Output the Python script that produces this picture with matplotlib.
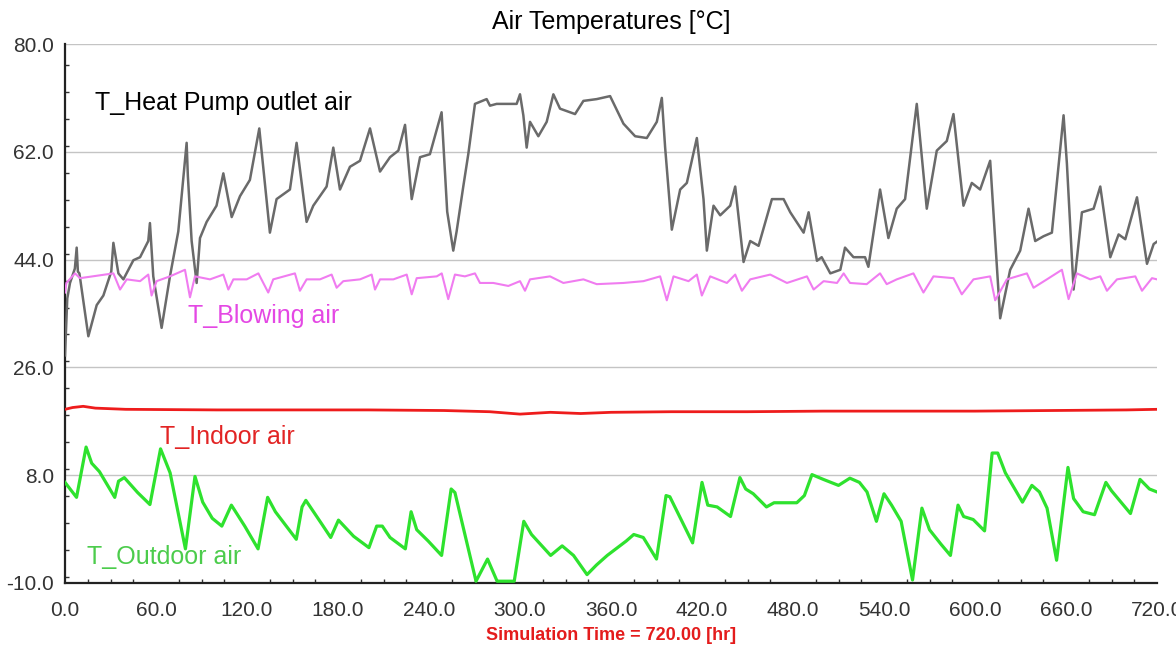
import matplotlib
matplotlib.use("Agg")
import matplotlib.pyplot as plt
from matplotlib.ticker import MultipleLocator, FormatStrFormatter

# T_Heat Pump outlet air
hp_hours = [0, 1.5, 3.3, 6.5, 7.7, 8.5, 9.5, 15.4, 20.9, 25.3, 30.5, 31.9, 35.2, 38.5, 45.1,
            49.5, 54.9, 56.0, 58.2, 63.7, 69.2, 74.7, 80.2, 81.0, 83.5, 86.8, 89.0, 93.4,
            99.9, 104.4, 109.9, 115.4, 121.9, 128.1, 135.1, 139.5, 148.3, 152.7, 159.3,
            163.7, 172.5, 176.9, 181.3, 187.9, 194.5, 201.1, 207.7, 214.3, 219.8, 224.2,
            228.6, 234.1, 240.6, 248.3, 252.0, 256.0, 258.2, 262.6, 265.9, 270.3, 278.0,
            280.2, 284.6, 297.8, 300.0, 302.2, 304.4, 306.6, 312.1, 317.6, 322.0, 326.4,
            336.3, 341.8, 350.6, 359.4, 368.2, 375.9, 383.6, 390.2, 393.5, 395.7, 400.1,
            405.6, 410.0, 416.6, 421.0, 423.2, 427.6, 432.0, 438.6, 441.9, 447.4, 451.8,
            457.3, 466.1, 473.8, 478.2, 487.0, 490.3, 495.8, 498.9, 504.6, 511.2, 514.3,
            519.9, 527.5, 529.7, 537.4, 542.9, 548.4, 553.9, 561.6, 568.2, 574.8, 581.4,
            585.8, 592.4, 597.9, 603.4, 610.0, 616.6, 623.2, 629.8, 635.3, 639.7, 645.2,
            650.7, 658.4, 660.6, 665.0, 670.5, 678.2, 682.6, 689.2, 694.7, 699.1, 706.8,
            713.4, 717.8, 720]
hp_temp = [28.0, 37.5, 40.1, 42.5, 46.0, 42.0, 41.7, 31.2, 36.4, 38.0, 42.0, 46.8, 41.7, 40.7, 43.9,
           44.4, 47.1, 50.1, 41.2, 32.6, 41.2, 48.7, 63.5, 58.0, 47.1, 40.1, 47.6, 50.3,
           53.0, 58.4, 51.1, 54.6, 57.3, 65.9, 48.5, 54.1, 55.7, 63.5, 50.3,
           53.0, 56.2, 62.7, 55.7, 59.5, 60.5, 65.9, 58.7, 61.1, 62.2, 66.5,
           54.1, 61.1, 61.6, 68.6, 52.0, 45.5, 48.7, 56.2, 61.6, 70.0, 70.8,
           69.7, 70.0, 70.0, 71.6, 68.1, 62.7, 67.0, 64.6, 67.0, 71.6, 69.2,
           68.3, 70.5, 70.8, 71.3, 66.7, 64.6, 64.3, 67.0, 71.0, 62.7, 49.0,
           55.7, 56.8, 64.3, 54.1, 45.5, 53.0, 51.4, 53.0, 56.2, 43.6, 47.1,
           46.3, 54.1, 54.1, 51.9, 48.5, 51.9, 43.8, 44.4, 41.7, 42.3, 46.0,
           44.4, 44.4, 42.8, 55.7, 47.6, 52.5, 54.1, 70.0, 52.5, 62.2, 63.8,
           68.3, 53.0, 56.8, 55.7, 60.5, 34.2, 42.3, 45.5, 52.5, 47.1, 47.9,
           48.5, 68.1, 60.0, 39.0, 51.9, 52.5, 56.2, 44.4, 48.2, 47.4, 54.4,
           43.3, 46.6, 47.0]

# T_Blowing air
blow_hours = [0, 0.9, 6.6, 9.9, 31.9, 36.3, 40.7, 49.5, 54.9, 57.1, 60.4, 69.2, 79.1, 82.4, 85.7,
              95.6, 104.4, 107.7, 111.0, 119.8, 127.5, 134.0, 137.3, 151.6, 154.9, 159.3,
              168.1, 175.8, 179.1, 183.5, 194.5, 202.2, 204.4, 207.7, 216.5, 225.3, 228.6,
              231.9, 245.1, 248.4, 252.7, 257.1, 263.7, 270.3, 273.6, 282.4, 292.3, 300.0,
              303.3, 306.6, 319.8, 328.6, 341.8, 350.6, 368.2, 381.4, 392.4, 396.8, 401.2,
              411.1, 416.6, 419.9, 425.4, 436.4, 441.9, 446.3, 451.8, 465.0, 476.0, 489.2,
              493.6, 500.2, 509.0, 513.4, 517.6, 528.6, 537.4, 541.8, 548.4, 559.4, 566.0,
              572.6, 585.8, 591.3, 599.0, 610.0, 613.3, 621.0, 634.2, 638.6, 647.4, 657.3,
              661.7, 667.2, 676.0, 682.6, 687.0, 693.6, 705.7, 710.1, 716.7, 720]
blow_temp = [38.5, 40.1, 41.7, 40.9, 41.7, 39.0, 40.7, 40.4, 41.5, 38.0, 40.4, 41.2, 42.3, 37.7, 41.2,
             40.7, 41.5, 39.0, 40.7, 40.7, 41.7, 38.5, 40.7, 41.7, 38.8, 40.7,
             40.7, 41.5, 39.3, 40.4, 40.7, 41.5, 39.0, 40.7, 40.7, 41.5, 38.2,
             40.9, 41.2, 41.7, 37.4, 41.5, 41.2, 41.7, 40.1, 40.1, 39.6, 40.4,
             38.8, 40.7, 41.2, 40.1, 40.7, 39.9, 40.1, 40.4, 41.2, 37.2, 41.2,
             40.4, 41.5, 38.0, 41.2, 40.1, 41.5, 38.8, 40.7, 41.5, 40.1, 41.2,
             39.0, 40.4, 40.1, 41.7, 40.1, 39.9, 41.7, 39.9, 40.7, 41.7, 38.5,
             41.2, 40.9, 38.2, 40.7, 41.2, 37.2, 40.7, 41.7, 39.3, 40.7, 42.3,
             37.4, 41.7, 40.7, 41.2, 38.8, 40.7, 41.2, 38.8, 40.9, 40.7]

# T_Indoor air
indoor_hours = [0, 5, 12, 20, 40, 100, 200, 250, 280, 300, 320, 340, 360, 400, 450, 500,
                550, 600, 650, 700, 720]
indoor_temp = [19.0, 19.3, 19.5, 19.2, 19.0, 18.9, 18.9, 18.8, 18.6, 18.2, 18.5, 18.3, 18.5,
               18.6, 18.6, 18.7, 18.7, 18.7, 18.8, 18.9, 19.0]

# T_Outdoor air
out_hours = [0, 7.6, 13.9, 17.6, 22.7, 32.8, 35.3, 39.1, 47.9, 56.0, 63.0, 69.3, 79.4, 85.7,
             90.8, 97.1, 103.4, 109.7, 118.5, 127.3, 133.6, 138.7, 152.5, 156.3, 158.8,
             168.9, 175.2, 180.3, 190.3, 200.4, 205.5, 209.2, 214.3, 224.4, 228.2, 231.9,
             239.5, 248.3, 254.6, 257.1, 271.0, 278.6, 284.9, 296.2, 302.5, 307.6, 320.2,
             327.8, 335.3, 344.2, 350.4, 357.5, 370.0, 375.0, 381.3, 390.0, 396.3, 398.8,
             413.8, 420.0, 423.8, 430.0, 438.8, 445.0, 448.8, 453.8, 462.5, 467.5, 482.5,
             487.5, 492.5, 500.0, 510.0, 517.5, 523.8, 528.8, 535.0, 540.0, 545.0, 551.3,
             558.8, 565.0, 570.0, 577.5, 583.8, 588.8, 592.5, 598.8, 606.3, 611.3, 615.0,
             620.0, 631.3, 637.5, 642.5, 647.5, 653.8, 661.3, 665.0, 671.3, 678.8, 686.3,
             690.0, 702.5, 708.8, 715.0, 720]
out_temp = [6.8, 4.3, 12.7, 10.0, 8.6, 4.3, 7.0, 7.6, 5.1, 3.1, 12.4, 8.4, -4.3, 7.8,
            3.5, 0.8, -0.5, 3.0, -0.5, -4.3, 4.3, 1.9, -2.7, 2.7, 3.8,
            0.0, -2.4, 0.5, -2.2, -4.1, -0.5, -0.5, -2.4, -4.3, 1.9, -1.1,
            -3.0, -5.4, 5.7, 5.1, -9.7, -6.0, -9.7, -9.7, 0.3, -1.9, -5.4,
            -3.8, -5.4, -8.6, -7.0, -5.4, -3.0, -1.9, -2.4, -6.0, 4.6, 4.4,
            -3.3, 6.8, 3.0, 2.7, 1.1, 7.6, 5.7, 4.9, 2.7, 3.4, 3.4,
            4.6, 8.1, 7.3, 6.3, 7.5, 6.8, 5.2, 0.3, 4.9, 3.0, 0.3,
            -9.5, 2.5, -1.1, -3.5, -5.4, 3.0, 1.1, 0.6, -1.3, 11.7, 11.7,
            8.4, 3.5, 6.3, 5.2, 2.5, -6.2, 9.3, 4.1, 1.9, 1.4, 6.8,
            5.4, 1.6, 7.3, 5.7, 5.2]

y_ticks = [-10, 8, 26, 44, 62, 80]

plt.rcParams["font.family"] = ["Liberation Sans", "DejaVu Sans"]

fig = plt.figure(figsize=(11.76, 6.59), dpi=100)
ax = fig.add_axes([65 / 1176, 1 - 583 / 659, (1157 - 65) / 1176, (583 - 44) / 659])

ax.plot(hp_hours, hp_temp, color="#6a6a6a", lw=1.8, zorder=3)
ax.plot(blow_hours, blow_temp, color="#f07cf0", lw=1.5, zorder=3)
ax.plot(indoor_hours, indoor_temp, color="#ee1c1c", lw=2.0, zorder=3)
ax.plot(out_hours, out_temp, color="#2ee22e", lw=2.3, zorder=3)

lbl = dict(fontsize=18, va="center", ha="left")
ax.text(19.8, 70.1, "T_Heat Pump outlet air", color="black", **lbl)
ax.text(81.1, 34.6, "T_Blowing air", color="#e448e4", **lbl)
ax.text(62.6, 14.4, "T_Indoor air", color="#e22424", **lbl)
ax.text(14.5, -5.7, "T_Outdoor air", color="#4ccc4c", **lbl)

ax.set_xlim(0, 720)
ax.set_ylim(-10, 80)
ax.set_yticks(y_ticks)
ax.xaxis.set_major_locator(MultipleLocator(60))
ax.xaxis.set_minor_locator(MultipleLocator(15))
ax.yaxis.set_minor_locator(MultipleLocator(4.5))
ax.xaxis.set_major_formatter(FormatStrFormatter("%.1f"))
ax.yaxis.set_major_formatter(FormatStrFormatter("%.1f"))

for s in ["top", "right"]:
    ax.spines[s].set_visible(False)
for s in ["left", "bottom"]:
    ax.spines[s].set_linewidth(1.6)
    ax.spines[s].set_color("#222222")

ax.tick_params(which="major", length=0, labelsize=15, labelcolor="#333333")
ax.tick_params(axis="x", which="major", pad=13)
ax.tick_params(axis="y", which="major", pad=8)
ax.tick_params(which="minor", direction="in", length=3, width=1, color="#333333")

ax.yaxis.grid(True, color="#c4c4c4", lw=1)
ax.set_axisbelow(True)

ax.set_title("Air Temperatures [°C]", fontsize=18, pad=11)
ax.set_xlabel("Simulation Time = 720.00 [hr]", fontsize=13, fontweight="bold",
              color="#e41c1c", labelpad=5)

plt.savefig("out.png", dpi=100)
